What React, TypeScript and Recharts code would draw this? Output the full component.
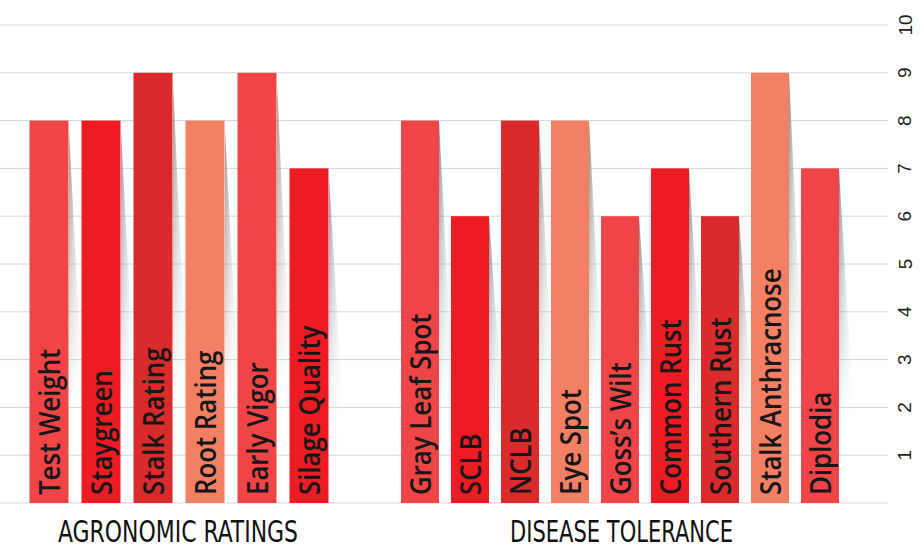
import { BarChart, Bar, XAxis, YAxis, CartesianGrid, Cell, LabelList } from 'recharts';

const agronomicTraits = ['Test Weight', 'Staygreen', 'Stalk Rating', 'Root Rating', 'Early Vigor', 'Silage Quality'];
const agronomicScores = [8, 8, 9, 8, 9, 7];

const diseaseTraits = [
  'Gray Leaf Spot', 'SCLB', 'NCLB', 'Eye Spot', 'Goss’s Wilt',
  'Common Rust', 'Southern Rust', 'Stalk Anthracnose', 'Diplodia',
];
const diseaseScores = [8, 6, 8, 8, 6, 7, 6, 9, 7];

const scoreTicks = [0, 1, 2, 3, 4, 5, 6, 7, 8, 9, 10];
const groupTitles = ['AGRONOMIC RATINGS', 'DISEASE TOLERANCE'];

// light red, red, dark red, salmon - repeats along each group
const palette = ['#EF4547', '#ED1C24', '#D92B2B', '#F37F65'];

const agronomicData = agronomicTraits.map((trait, i) => ({ trait, score: agronomicScores[i] }));
const diseaseData = diseaseTraits.map((trait, i) => ({ trait, score: diseaseScores[i] }));

const LABEL_FONT = '"Open Sans", "Noto Sans", sans-serif';
const TITLE_FONT = '"Liberation Sans Narrow", "DejaVu Sans Condensed", sans-serif';
const AXIS_FONT = '"Liberation Sans", Arial, sans-serif';

const HEIGHT = 557;
const MARGIN = { top: 25, right: 0, left: 0, bottom: 54 };

// eslint-disable-next-line @typescript-eslint/no-explicit-any
function ShadowedBar({ x, y, width, height, fill }: any) {
  if (!height) return null;
  const r = x + width;
  return (
    <g>
      <polygon
        points={`${r},${y} ${r + 20},${y + height} ${r},${y + height}`}
        fill="url(#shadeX)"
        mask="url(#shadeFade)"
      />
      <rect x={x} y={y} width={width} height={height} fill={fill} />
    </g>
  );
}

// eslint-disable-next-line @typescript-eslint/no-explicit-any
function TraitLabel({ x, y, width, height, value }: any) {
  const cx = x + width / 2;
  const by = y + height - 8;
  // condensed look: bigger glyphs, squeezed along the reading direction
  return (
    <text
      transform={`translate(${cx} ${by}) rotate(-90) scale(0.89 1)`}
      dominantBaseline="central"
      fontFamily={LABEL_FONT}
      fontWeight={600}
      fontSize={29}
      fill="#161616"
    >
      {value}
    </text>
  );
}

// eslint-disable-next-line @typescript-eslint/no-explicit-any
function ScoreTick({ x, y, payload }: any) {
  if (payload.value === 0) return null;
  const tx = x + 9;
  return (
    <text
      x={tx}
      y={y}
      transform={`rotate(-90 ${tx} ${y})`}
      textAnchor="middle"
      dominantBaseline="central"
      fontFamily={AXIS_FONT}
      fontSize={19}
      fill="#231F20"
    >
      {payload.value}
    </text>
  );
}

function ShadeDefs() {
  return (
    <defs>
      <linearGradient id="shadeX" x1="0" y1="0" x2="1" y2="0">
        <stop offset="0%" stopColor="#888888" stopOpacity={0.95} />
        <stop offset="100%" stopColor="#ffffff" stopOpacity={0} />
      </linearGradient>
      <linearGradient id="fadeY" x1="0" y1="0" x2="0" y2="1">
        <stop offset="0%" stopColor="#fff" />
        <stop offset="75%" stopColor="#000" />
      </linearGradient>
      <mask id="shadeFade" maskUnits="objectBoundingBox" maskContentUnits="objectBoundingBox" x="0" y="0" width="1" height="1">
        <rect x="0" y="0" width="1" height="1" fill="url(#fadeY)" />
      </mask>
    </defs>
  );
}

function GroupTitle({ text, cx, length }: { text: string; cx: number; length: number }) {
  return (
    <text
      x={cx}
      y={542}
      textAnchor="middle"
      textLength={length}
      lengthAdjust="spacingAndGlyphs"
      fontFamily={TITLE_FONT}
      fontSize={30}
      fill="#111"
    >
      {text}
    </text>
  );
}

export default function App() {
  return (
    <div style={{ position: 'absolute', left: 0, top: 0, width: 924, height: HEIGHT, background: '#fff' }}>
      <div style={{ position: 'absolute', left: 0, top: 0 }}>
        <BarChart width={360} height={HEIGHT} data={agronomicData} margin={MARGIN}>
          <ShadeDefs />
          <CartesianGrid vertical={false} stroke="#d6d6d6" strokeWidth={1} />
          <XAxis dataKey="trait" hide padding={{ left: 22.5, right: 25.5 }} />
          <YAxis hide domain={[0, 10]} ticks={scoreTicks} />
          <Bar dataKey="score" barSize={39} shape={<ShadowedBar />} isAnimationActive={false}>
            {agronomicData.map((d, i) => (
              <Cell key={d.trait} fill={palette[i % palette.length]} />
            ))}
            <LabelList dataKey="trait" content={TraitLabel} />
          </Bar>
        </BarChart>
      </div>
      <div style={{ position: 'absolute', left: 360, top: 0 }}>
        <BarChart width={564} height={HEIGHT} data={diseaseData} margin={MARGIN}>
          <CartesianGrid vertical={false} stroke="#d6d6d6" strokeWidth={1} />
          <XAxis dataKey="trait" hide padding={{ left: 35, right: 43 }} />
          <YAxis
            orientation="right"
            width={36}
            domain={[0, 10]}
            ticks={scoreTicks}
            axisLine={false}
            tickLine={false}
            tick={<ScoreTick />}
          />
          <Bar dataKey="score" barSize={38} shape={<ShadowedBar />} isAnimationActive={false}>
            {diseaseData.map((d, i) => (
              <Cell key={d.trait} fill={palette[i % palette.length]} />
            ))}
            <LabelList dataKey="trait" content={TraitLabel} />
          </Bar>
        </BarChart>
      </div>
      <svg width={924} height={HEIGHT} style={{ position: 'absolute', left: 0, top: 0, pointerEvents: 'none' }}>
        <GroupTitle text={groupTitles[0]} cx={178} length={240} />
        <GroupTitle text={groupTitles[1]} cx={621.5} length={223} />
      </svg>
    </div>
  );
}
